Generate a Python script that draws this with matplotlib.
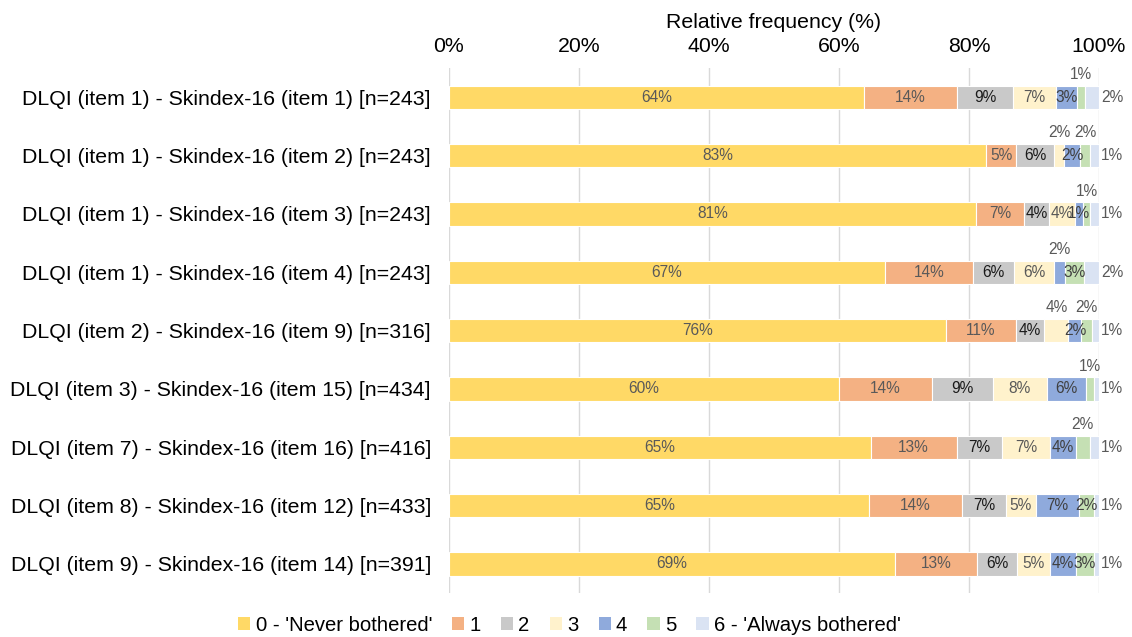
import matplotlib
matplotlib.use("Agg")
import matplotlib.pyplot as plt
from matplotlib.patches import Patch

plt.rcParams['font.family'] = ['Liberation Sans', 'DejaVu Sans']

categories = [
    "DLQI (item 1) - Skindex-16 (item 1) [n=243]",
    "DLQI (item 1) - Skindex-16 (item 2) [n=243]",
    "DLQI (item 1) - Skindex-16 (item 3) [n=243]",
    "DLQI (item 1) - Skindex-16 (item 4) [n=243]",
    "DLQI (item 2) - Skindex-16 (item 9) [n=316]",
    "DLQI (item 3) - Skindex-16 (item 15) [n=434]",
    "DLQI (item 7) - Skindex-16 (item 16) [n=416]",
    "DLQI (item 8) - Skindex-16 (item 12) [n=433]",
    "DLQI (item 9) - Skindex-16 (item 14) [n=391]",
]

series_names = ["0 - 'Never bothered'", "1", "2", "3", "4", "5", "6 - 'Always bothered'"]

# values per category: [0, 1, 2, 3, 4, 5, 6] in %
s0 = [63.8, 82.7, 81.1, 67.1, 76.4, 60.0, 64.9, 64.7, 68.6]
s1 = [14.4, 4.6, 7.4, 13.6, 10.8, 14.3, 13.2, 14.2, 12.6]
s2 = [8.6, 5.8, 3.8, 6.2, 4.4, 9.4, 7.0, 6.8, 6.2]
s3 = [6.6, 1.6, 4.0, 6.2, 3.7, 8.3, 7.4, 4.6, 5.1]
s4 = [3.3, 2.4, 1.2, 1.7, 2.0, 6.0, 3.9, 6.7, 3.9]
s5 = [1.2, 1.6, 1.2, 2.9, 1.6, 1.3, 2.2, 2.2, 2.8]
s6 = [2.1, 1.3, 1.3, 2.3, 1.1, 0.7, 1.4, 0.8, 0.8]
series = [s0, s1, s2, s3, s4, s5, s6]

colors = ["#FFD966", "#F4B183", "#C9C9C9", "#FFF2CC", "#8FAADC", "#C5E0B4", "#DAE3F3"]
label_colors = ["#595959", "#595959", "#1a1a1a", "#595959", "#404040", "#404040", "#404040"]

# label placement per category per series: i=inside, a=above, r=right
placement = [
    "iiiiiar",
    "iiiaiar",
    "iiiiiar",
    "iiiiair",
    "iiiaiar",
    "iiiiiar",
    "iiiiiar",
    "iiiiiir",
    "iiiiiir",
]

BIG = 15.3
LEG = 14.6
SMALL = 11.2

fig = plt.figure(figsize=(11.32, 6.37), dpi=100)
ax = fig.add_axes([0.3966, 0.069, 0.5742, 0.824])

n = len(categories)
ypos = list(range(n))
left = [0.0] * n
bar_h = 0.40
for k, vals in enumerate(series):
    ax.barh(ypos, vals, left=left, height=bar_h, color=colors[k],
            edgecolor="white", linewidth=0.8, label=series_names[k], zorder=2)
    for i, v in enumerate(vals):
        txt = f"{round(v)}%"
        cx = left[i] + v / 2
        p = placement[i][k]
        if p == "i":
            ax.text(cx, i, txt, ha="center", va="center", fontsize=SMALL,
                    color=label_colors[k], zorder=3)
        elif p == "a":
            ax.text(cx, i - bar_h / 2 - 0.06, txt, ha="center", va="bottom",
                    fontsize=SMALL, color="#595959", zorder=3)
        else:
            ax.text(left[i] + v + 0.3, i, txt, ha="left", va="center",
                    fontsize=SMALL, color="#595959", zorder=3)
    left = [l + v for l, v in zip(left, vals)]

ax.set_xlim(0, 100)
ax.set_ylim(n - 0.5, -0.5)
ax.set_yticks(ypos)
ax.set_yticklabels(categories, fontsize=BIG, color="#000000")
ax.set_xticks([0, 20, 40, 60, 80, 100])
ax.set_xticklabels([f"{t}%" for t in [0, 20, 40, 60, 80, 100]], fontsize=BIG, color="#000000")
ax.xaxis.tick_top()
ax.xaxis.set_label_position("top")
ax.set_xlabel("Relative frequency (%)", fontsize=BIG, labelpad=6)
ax.tick_params(axis="both", length=0)
ax.tick_params(axis="y", pad=13)
ax.tick_params(axis="x", pad=9)
for sp in ax.spines.values():
    sp.set_visible(False)
ax.grid(axis="x", color="#D9D9D9", linewidth=1, zorder=0)
ax.set_axisbelow(True)

handles = [Patch(facecolor=c, edgecolor="none") for c in colors]
fig.legend(handles, series_names, loc="center", bbox_to_anchor=(0.503, 0.018),
           ncol=7, frameon=False, fontsize=LEG, handlelength=0.6, handleheight=0.6,
           handletextpad=0.25, columnspacing=1.0)

fig.savefig("out.png", dpi=100, facecolor="white")
